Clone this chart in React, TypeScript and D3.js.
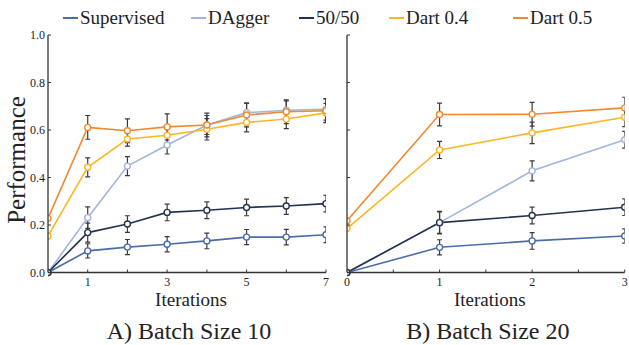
import React from "react";
import * as d3 from "d3";

const seriesNames = ["Supervised", "DAgger", "50/50", "Dart 0.4", "Dart 0.5"];
const seriesColors = ["#4a6cab", "#a2b5db", "#24324f", "#fbb722", "#f08a30"];

// Panel A (batch size 10), iterations 0..7
const itersA = [0, 1, 2, 3, 4, 5, 6, 7];
const supA = [0, 0.091, 0.107, 0.119, 0.133, 0.149, 0.149, 0.159];
const supAErr = [0, 0.03, 0.032, 0.032, 0.033, 0.032, 0.033, 0.033];
const dagA = [0, 0.231, 0.448, 0.537, 0.621, 0.673, 0.683, 0.687];
const dagAErr = [0, 0.045, 0.04, 0.038, 0.04, 0.04, 0.04, 0.045];
const fiftyA = [0, 0.168, 0.204, 0.253, 0.262, 0.274, 0.28, 0.29];
const fiftyAErr = [0, 0.04, 0.035, 0.035, 0.035, 0.035, 0.035, 0.035];
const d04A = [0.154, 0.443, 0.562, 0.578, 0.603, 0.632, 0.646, 0.672];
const d04AErr = [0, 0.04, 0.03, 0.04, 0.045, 0.04, 0.04, 0.04];
const d05A = [0.228, 0.611, 0.597, 0.613, 0.621, 0.663, 0.677, 0.681];
const d05AErr = [0, 0.05, 0.05, 0.055, 0.05, 0.05, 0.05, 0.05];

// Panel B (batch size 20), iterations 0..3
const itersB = [0, 1, 2, 3];
const supB = [0, 0.106, 0.133, 0.154];
const supBErr = [0, 0.032, 0.035, 0.03];
const dagB = [0, 0.21, 0.428, 0.559];
const dagBErr = [0, 0.045, 0.042, 0.035];
const fiftyB = [0, 0.21, 0.24, 0.275];
const fiftyBErr = [0, 0.047, 0.035, 0.035];
const d04B = [0.185, 0.516, 0.588, 0.654];
const d04BErr = [0, 0.036, 0.045, 0.04];
const d05B = [0.218, 0.665, 0.666, 0.693];
const d05BErr = [0, 0.048, 0.05, 0.045];

const yTicks = [0, 0.2, 0.4, 0.6, 0.8, 1.0];
const xTicksA = [1, 2, 3, 4, 5, 6, 7];
const xLabelsA = [1, 3, 5, 7];
const xTicksB = [0.5, 1, 1.5, 2, 2.5, 3];
const xLabelsB = [0, 1, 2, 3];

const AXIS = "#333";
const TXT = { fontFamily: '"Liberation Serif"' };

type Panel = {
  id: string;
  iters: number[];
  values: number[][];
  errs: number[][];
  x0: number;
  x1: number;
  xmax: number;
  ticks: number[];
  labels: number[];
  showYLabels: boolean;
  title: string;
};

const panels: Panel[] = [
  {
    id: "A",
    iters: itersA,
    values: [supA, dagA, fiftyA, d04A, d05A],
    errs: [supAErr, dagAErr, fiftyAErr, d04AErr, d05AErr],
    x0: 48,
    x1: 326,
    xmax: 7,
    ticks: xTicksA,
    labels: xLabelsA,
    showYLabels: true,
    title: "A) Batch Size 10",
  },
  {
    id: "B",
    iters: itersB,
    values: [supB, dagB, fiftyB, d04B, d05B],
    errs: [supBErr, dagBErr, fiftyBErr, d04BErr, d05BErr],
    x0: 347,
    x1: 624.7,
    xmax: 3,
    ticks: xTicksB,
    labels: xLabelsB,
    showYLabels: false,
    title: "B) Batch Size 20",
  },
];

const yTop = 35;
const yBot = 272.5;

function PanelView({ p }: { p: Panel }) {
  const x = d3.scaleLinear().domain([0, p.xmax]).range([p.x0, p.x1]);
  const y = d3.scaleLinear().domain([0, 1]).range([yBot, yTop]);
  const line = d3
    .line<number>()
    .x((_, i) => x(p.iters[i]))
    .y((v) => y(v));
  const clipId = "clip" + p.id;
  const cx = (p.x0 + p.x1) / 2;
  return (
    <g>
      <defs>
        <clipPath id={clipId}>
          <rect x={p.x0} y={yTop - 10} width={p.x1 - p.x0} height={yBot - yTop + 20} />
        </clipPath>
      </defs>
      <g clipPath={`url(#${clipId})`}>
        {p.values.map((vals, si) => (
          <path key={"l" + si} d={line(vals) || ""} fill="none" stroke={seriesColors[si]} strokeWidth={1.6} />
        ))}
        {p.values.map((vals, si) =>
          vals.map((v, i) => {
            const e = p.errs[si][i];
            if (!e) return null;
            const xx = x(p.iters[i]);
            return (
              <g key={"e" + si + "-" + i} stroke="#3a3a3a" strokeWidth={1.2}>
                <line x1={xx} x2={xx} y1={y(v - e)} y2={y(v + e)} />
                <line x1={xx - 2.5} x2={xx + 2.5} y1={y(v - e)} y2={y(v - e)} />
                <line x1={xx - 2.5} x2={xx + 2.5} y1={y(v + e)} y2={y(v + e)} />
              </g>
            );
          })
        )}
        {p.values.map((vals, si) =>
          vals.map((v, i) => (
            <circle
              key={"c" + si + "-" + i}
              cx={x(p.iters[i])}
              cy={y(v)}
              r={3}
              fill="#fff"
              stroke={seriesColors[si]}
              strokeWidth={1.4}
            />
          ))
        )}
      </g>
      <line x1={p.x0} x2={p.x0} y1={yTop} y2={yBot} stroke={AXIS} strokeWidth={1.3} />
      <line x1={p.x0} x2={p.x1} y1={yBot} y2={yBot} stroke={AXIS} strokeWidth={1.3} />
      {yTicks.map((t) => (
        <g key={"yt" + t}>
          <line x1={p.x0} x2={p.x0 + 3} y1={y(t)} y2={y(t)} stroke={AXIS} strokeWidth={1} />
          {p.showYLabels && (
            <text x={p.x0 - 3} y={y(t) + 4} textAnchor="end" fontSize={12} style={TXT} fill="#222">
              {t.toFixed(1)}
            </text>
          )}
        </g>
      ))}
      {p.ticks.map((t) => (
        <line key={"xt" + t} x1={x(t)} x2={x(t)} y1={yBot} y2={yBot - 3} stroke={AXIS} strokeWidth={1} />
      ))}
      {p.labels.map((t) => (
        <text key={"xl" + t} x={x(t)} y={285.5} textAnchor="middle" fontSize={12} style={TXT} fill="#222">
          {t}
        </text>
      ))}
      <text x={cx + 4} y={306} textAnchor="middle" fontSize={19} style={TXT} fill="#222">
        Iterations
      </text>
      <text x={cx + 2} y={339} textAnchor="middle" fontSize={24} style={TXT} fill="#222">
        {p.title}
      </text>
    </g>
  );
}

const legendX = [63, 191, 299, 389, 513];

export default function App() {
  return (
    <svg
      width={629}
      height={345}
      style={{ position: "absolute", left: 0, top: 0, background: "#fff" }}
    >
      <rect width={629} height={345} fill="#fff" />
      {seriesNames.map((n, i) => (
        <g key={n}>
          <line x1={legendX[i]} x2={legendX[i] + 15} y1={18} y2={18} stroke={seriesColors[i]} strokeWidth={2} />
          <text x={legendX[i] + 17} y={24} fontSize={19} style={TXT} fill="#222">
            {n}
          </text>
        </g>
      ))}
      <text
        transform="translate(25,160) rotate(-90)"
        textAnchor="middle"
        fontSize={25}
        style={TXT}
        fill="#222"
      >
        Performance
      </text>
      {panels.map((p) => (
        <PanelView key={p.id} p={p} />
      ))}
    </svg>
  );
}
